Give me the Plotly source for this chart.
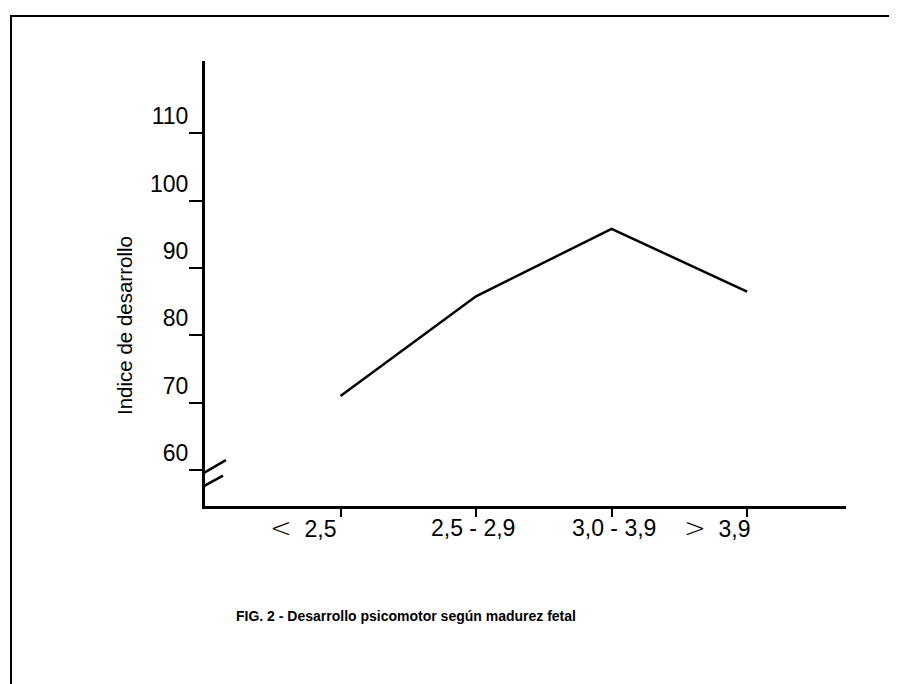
import plotly.graph_objects as go

categories = ["< 2,5", "2,5 - 2,9", "3,0 - 3,9", "> 3,9"]
values = [71.0, 85.8, 95.8, 86.5]
y_ticks = [60, 70, 80, 90, 100, 110]
y_title = "Indice de desarrollo"
caption = "FIG. 2 - Desarrollo psicomotor según madurez fetal"

W, H = 897, 684
ml, mr, mt, mb = 197, 59, 53, 186
pw, ph = W - ml - mr, H - mt - mb

def px2paper_x(px):
    return (px - ml) / pw

def px2paper_y(py):
    return (H - mb - py) / ph

xs = list(range(len(categories)))
font = "Liberation Sans, Arial, Helvetica, sans-serif"

fig = go.Figure()
fig.add_trace(go.Scatter(x=xs, y=values, mode="lines",
                         line=dict(color="black", width=2.5),
                         hoverinfo="skip", showlegend=False))

fig.update_layout(
    width=W, height=H,
    margin=dict(l=ml, r=mr, t=mt, b=mb, pad=0),
    paper_bgcolor="white", plot_bgcolor="white",
    font=dict(family=font, color="black"),
    xaxis=dict(range=[-1, 3.73], tickvals=xs, ticktext=[""] * len(xs),
               showline=True, linecolor="black", linewidth=3,
               ticks="outside", ticklen=8, tickwidth=2, tickcolor="black",
               showgrid=False, zeroline=False, fixedrange=True),
    yaxis=dict(range=[54.7, 120.7], tickvals=y_ticks,
               ticktext=[str(v) for v in y_ticks],
               showline=True, linecolor="black", linewidth=3,
               ticks="outside", ticklen=13, tickwidth=2, tickcolor="black",
               ticklabelposition="outside top", ticklabelstandoff=9,
               tickfont=dict(size=23, family=font, color="black"),
               showgrid=False, zeroline=False, fixedrange=True),
)

# category labels below the axis
anchors = ["right", "center", "center", "right"]
shifts = [-2, -3, 2, 6]
for i, (lab, anc, sh) in enumerate(zip(categories, anchors, shifts)):
    sym = lab[0] if lab[0] in "<>" else None
    txt = lab
    if sym:
        txt = f"<span style='font-family:DejaVu Sans;font-weight:200;font-size:26px'>{sym}</span>&nbsp;&nbsp;{lab[2:]}"
    fig.add_annotation(x=i, y=0, xref="x", yref="paper", text=txt,
                       showarrow=False, xanchor=anc, yanchor="middle",
                       xshift=sh, yshift=-(520 - (H - mb)),
                       font=dict(size=23, family=font, color="black"))

# y axis title
fig.add_annotation(x=px2paper_x(116), y=px2paper_y(318), xref="paper", yref="paper",
                   text=y_title, textangle=-90, showarrow=False,
                   xanchor="center", yanchor="middle",
                   font=dict(size=20.5, family=font, color="black"))

# caption
fig.add_annotation(x=px2paper_x(226), y=px2paper_y(608), xref="paper", yref="paper",
                   text=f"<b>{caption}</b>", showarrow=False,
                   xanchor="left", yanchor="middle",
                   font=dict(size=14, family=font, color="black"))

# axis break marks
for (x0, y0, x1, y1) in [(-1.113, 58.4, -0.846, 61.5), (-1.103, 56.6, -0.867, 59.2)]:
    fig.add_shape(type="line", xref="x", yref="y", x0=x0, y0=y0, x1=x1, y1=y1,
                  line=dict(color="black", width=2.5))

# figure border
bx0, bx1, by0, by1 = px2paper_x(3), px2paper_x(894), px2paper_y(8), px2paper_y(683)
fig.add_shape(type="rect", xref="paper", yref="paper", x0=bx0, x1=bx1, y0=by1, y1=by0,
              line=dict(color="black", width=2), fillcolor="rgba(0,0,0,0)")

fig.write_html("out.html")
